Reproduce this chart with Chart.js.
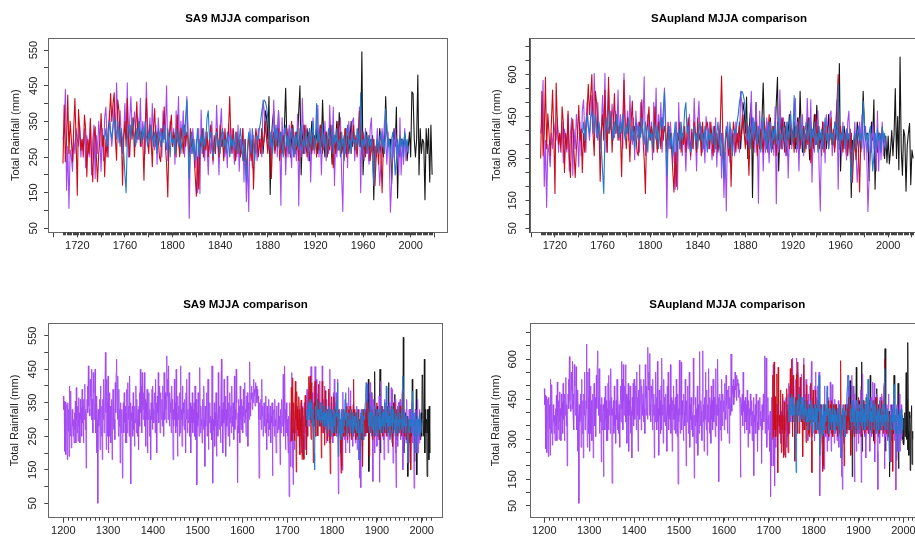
<!DOCTYPE html>
<html lang="en">
<head>
<meta charset="UTF-8" />
<title>SA9 / SAupland MJJA comparison</title>
<script src="https://cdn.jsdelivr.net/npm/chart.js"></script>
<style>
  html, body { margin: 0; padding: 0; background: #fff; overflow: hidden; }
  body { width: 915px; height: 538px; position: relative; }
  canvas { position: absolute; }
</style>
</head>
<body>
<canvas id="c1" width="460" height="269" style="left:0;top:0"></canvas>
<canvas id="c2" width="480" height="269" style="left:460px;top:0"></canvas>
<canvas id="c3" width="460" height="269" style="left:0;top:269px"></canvas>
<canvas id="c4" width="480" height="269" style="left:460px;top:269px"></canvas>

<script>
// ---- data (MJJA total rainfall, mm), one value per year from the start year ----

// SA9 long reconstruction (purple), 1200-1998
const sa9PurpleStart = 1200;
const sa9Purple = [
  370,330,355,205,352,318,195,300,345,180, 350,265,330,190,400,300,250,385,215,280,
  330,280,250,300,230,320,270,355,230,395, 300,260,340,235,365,280,320,230,360,300,
  335,250,390,290,340,230,360,300,405,270, 330,155,300,360,400,320,460,340,330,310,
  420,370,320,450,300,360,260,440,380,300, 330,450,260,370,200,350,300,50,330,280,
  300,360,210,400,300,250,340,180,360,300, 420,260,300,340,500,320,210,420,350,250,
  430,200,320,380,250,340,230,290,360,180, 320,390,270,350,300,240,410,320,440,480,
  350,300,430,250,390,280,330,170,350,260, 300,330,125,310,350,260,380,290,340,230,
  320,230,390,260,410,300,340,250,430,300, 350,108,320,300,340,250,380,270,300,220,
  340,290,400,260,360,300,250,330,210,340, 380,280,450,320,400,260,440,340,300,380,
  330,440,280,360,220,350,300,390,200,340, 300,380,250,330,310,180,350,300,390,270,
  400,330,290,350,380,260,420,300,350,200, 370,320,440,290,350,400,260,380,330,300,
  360,280,400,320,250,440,350,300,380,330, 290,490,370,420,300,460,330,280,380,350,
  320,260,400,300,360,180,330,280,420,300, 350,260,450,280,320,190,370,300,340,250,
  380,260,460,300,330,220,400,280,350,320, 270,360,300,200,380,300,420,260,330,290,
  300,440,250,350,310,200,340,290,380,260, 330,290,350,250,400,300,240,360,105,320,
  280,380,300,250,330,455,260,340,300,280, 230,360,310,270,400,300,160,340,280,330,
  380,250,300,420,210,330,290,350,260,310, 300,240,460,330,110,300,270,350,220,320,
  280,380,190,330,300,250,440,300,270,340, 310,230,360,480,280,330,200,350,290,420,
  300,260,370,190,330,280,430,300,250,350, 330,220,380,290,340,260,400,310,280,350,
  300,240,430,270,330,300,450,350,280,112, 320,360,260,340,230,400,300,270,360,310,
  340,260,390,310,290,410,330,300,250,370, 320,380,220,350,330,300,472,350,310,380,
  360,400,330,380,350,420,370,390,340,410, 380,400,350,390,360,370,300,125,350,330,
  300,360,270,420,310,340,250,300,350,280, 330,260,370,300,210,340,290,320,250,360,
  300,270,340,230,310,290,350,132,300,280, 330,250,360,300,280,200,340,310,260,300,
  350,270,310,290,165,330,260,300,360,280, 320,435,250,300,460,330,210,290,350,260,
  300,250,200,310,70,280,350,160,
  300,330,440,157,280,106,270,250,210,300, 260,330,300,280,340,250,300,270,330,220,
  310,280,250,350,200,300,340,190,310,260, 350,300,210,330,240,360,390,300,250,380,
  320,280,330,400,300,458,350,290,380,300, 260,320,400,300,458,250,350,420,330,310,
  377,330,290,360,300,415,280,350,320,260, 460,340,300,360,280,400,310,270,340,230,
  360,300,330,250,380,300,330,450,240,300, 350,300,280,330,230,380,300,420,260,350,
  300,380,250,310,420,330,78,300,260,330, 280,220,300,150,330,148,382,260,300,240,
  320,280,200,300,260,350,230,300,260,395, 300,200,330,386,280,320,250,300,220,344,
  300,260,330,280,230,300,250,340,210,300, 260,330,180,300,125,250,97,330,280,220,
  310,260,300,240,330,280,300,250,410,380, 330,300,290,270,320,260,300,410,280,340,
  250,380,300,115,360,270,330,200,300,250, 340,280,220,330,260,300,240,370,113,300,
  250,415,300,260,340,280,240,330,180,300, 360,260,300,340,395,250,330,200,310,270,
  350,240,300,260,395,300,260,390,170,300, 250,330,280,360,200,97,300,260,330,220,
  350,300,280,350,360,240,300,260,330,390, 150,320,280,240,330,260,300,230,330,360,
  250,300,210,270,330,250,170,230,330,280, 350,300,230,320,250,95,180,300,250,330,
  260,300,200,360,200,300,230,330,240,290, 270
];

// SA9 reconstruction (red), 1708-1977
const sa9RedStart = 1708;
const sa9Red = [
  232,396,237,300,424,260,350,300,237,330, 414,300,143,383,330,269,300,250,368,330,
  195,300,260,358,240,181,300,335,250,181, 260,300,372,280,310,195,300,250,330,360,
  428,350,400,430,300,241,410,380,300,320, 171,300,350,280,414,300,250,340,300,360,
  251,330,405,300,350,280,320,300,185,330, 414,300,260,340,300,223,330,386,280,320,
  300,250,237,330,300,391,280,230,138,300, 330,368,280,320,300,250,368,300,251,330,
  300,260,340,280,320,300,250,330,280,300, 260,200,140,250,160,300,280,330,250,300,
  270,320,250,300,340,280,240,310,260,330, 300,250,340,280,300,240,330,280,300,320,
  420,300,260,330,280,240,320,260,300,250, 280,330,240,300,200,260,310,280,240,300,
  160,280,330,300,250,300,260,320,280,300, 350,300,260,330,280,190,300,320,260,300,
  280,330,240,300,260,310,280,250,330,300, 260,300,350,280,250,320,270,300,240,330,
  280,300,260,340,290,250,320,280,300,260, 330,280,300,250,320,270,300,340,260,300,
  280,320,250,300,270,340,280,220,310,260, 300,350,270,320,260,300,280,330,250,300,
  280,320,260,300,340,270,310,250,300,380, 300,260,320,280,250,300,270,310,240,280,
  260,300,170,250,290,230,300,260,150,280
];

// SA9 reconstruction (blue), 1743-1998
const sa9BlueStart = 1743;
const sa9Blue = [
  300,330,280,310,350,320,300,340,360,330, 300,350,320,280,330,300,260,200,150,300,
  340,320,300,360,330,310,280,330,300,350, 320,290,330,300,350,310,280,320,300,340,
  310,280,320,300,260,330,300,280,320,290, 340,300,270,330,300,250,320,290,300,260,
  330,300,280,320,260,300,340,310,360,410, 300,190,280,320,260,300,240,280,330,250,
  290,310,260,330,280,300,360,380,300,320, 280,250,270,300,320,280,300,260,310,330,
  280,300,260,320,290,250,310,280,300,270, 320,290,260,300,330,280,240,300,260,180,
  280,320,300,260,330,290,240,280,310,300, 330,350,380,400,410,405,390,360,300,280,
  320,260,300,340,280,330,300,270,320,290, 250,300,340,280,310,260,300,330,280,250,
  310,280,330,270,300,340,260,300,280,320, 300,260,330,280,310,350,270,300,400,290,
  320,260,300,340,280,310,250,300,330,280, 300,340,260,310,290,330,270,300,250,320,
  280,310,260,300,340,280,300,260,320,290, 300,270,330,310,280,430,260,300,280,320,
  290,260,310,280,300,250,170,230,280,300, 260,300,320,280,300,260,385,330,280,300,
  250,300,320,270,200,240,300,260,310,280, 300,250,320,280,300,260
];

// SA9 observations (black), 1873-2018
const sa9BlackStart = 1873;
const sa9Black = [
  300,280,330,260,310,380,360,300,420,145, 300,350,380,270,330,290,380,250,320,300,
  260,340,443,300,280,330,250,300,340,290, 260,320,300,380,450,200,300,340,260,310,
  330,280,240,300,350,270,310,290,330,260, 300,340,280,410,300,250,320,290,260,340,
  300,230,330,280,300,350,270,375,320,260, 300,240,330,280,310,260,300,350,280,320,
  270,300,260,330,300,280,545,200,300,260, 320,280,240,300,270,310,130,280,250,300,
  260,330,300,280,250,300,420,320,280,300, 300,175,260,330,280,390,135,280,250,300,
  300,280,315,290,240,280,320,250,433,428, 300,250,300,480,200,330,260,300,290,130,
  330,260,330,180,340,200
];

// SAupland long reconstruction (purple), 1200-1998
const upPurpleStart = 1200;
const upPurple = [
  490,430,465,265,460,415,250,390,450,235, 457,340,430,240,525,390,322,505,278,365,
  430,365,322,390,295,415,350,465,295,515, 390,335,445,300,478,365,415,295,470,390,
  438,322,510,375,445,295,470,390,532,350, 430,200,390,470,525,415,610,445,430,405,
  552,485,415,592,390,470,335,580,500,390, 430,572,335,485,255,457,390,60,430,365,
  390,470,270,525,390,322,445,230,470,390, 552,335,390,445,657,415,270,552,457,322,
  565,255,415,500,322,445,295,375,470,230, 415,510,350,457,390,310,540,415,580,632,
  457,390,565,322,510,365,430,215,457,335, 390,430,160,405,457,335,500,375,445,295,
  415,295,510,335,540,390,445,322,565,390, 457,135,415,390,445,322,500,350,390,285,
  445,375,525,335,470,390,322,430,270,445, 500,365,592,415,525,335,580,445,390,500,
  430,580,365,470,285,457,390,510,255,445, 390,500,322,430,405,230,457,390,510,350,
  525,430,375,457,500,335,552,390,457,255, 485,415,580,375,457,525,335,500,430,390,
  470,365,525,415,322,580,457,390,500,430, 375,645,485,552,390,622,430,365,500,457,
  415,335,525,390,470,230,430,365,552,390, 457,335,592,365,415,240,485,390,445,322,
  500,335,604,390,430,285,525,365,457,415, 350,470,390,255,500,390,552,335,430,375,
  390,580,322,457,405,255,445,375,500,335, 430,375,457,322,525,390,310,470,132,415,
  365,597,390,322,430,590,335,445,390,365, 295,470,405,350,525,390,200,445,365,430,
  500,322,390,552,270,430,375,457,335,405, 390,310,604,430,154,390,350,457,285,415,
  365,500,240,430,390,322,629,390,350,445, 405,295,470,632,365,430,255,457,375,552,
  390,335,485,240,430,365,565,390,322,457, 430,285,500,375,445,335,525,405,365,457,
  390,310,565,350,430,390,600,457,365,141, 415,470,335,445,295,525,390,350,470,405,
  445,335,510,405,375,540,430,390,322,485, 415,500,285,457,430,390,620,457,405,500,
  470,525,430,500,457,552,485,510,445,540, 500,525,457,510,470,485,390,157,457,430,
  390,470,350,552,405,445,322,390,457,365, 430,335,485,390,270,445,375,415,322,470,
  390,350,445,295,405,375,457,164,390,365, 430,322,470,390,365,255,445,405,335,390,
  457,350,405,375,210,430,335,390,470,365, 415,613,322,390,605,430,270,375,457,335,
  390,322,255,405,85,365,457,200,
  390,430,580,200,365,125,350,322,270,390, 335,430,390,365,445,322,390,350,430,285,
  405,365,322,457,255,390,445,240,405,335, 457,390,270,430,310,470,510,390,322,500,
  415,365,430,525,390,605,457,375,500,390, 335,415,525,390,605,322,457,552,430,405,
  495,430,375,470,390,545,365,457,415,335, 605,445,390,470,365,525,405,350,445,295,
  470,390,430,322,500,390,430,592,310,390, 457,390,365,430,295,500,390,552,335,457,
  390,500,322,405,552,430,88,390,335,430, 365,285,390,190,430,188,500,335,390,310,
  415,365,255,390,335,457,295,390,335,515, 390,255,430,505,365,415,322,390,285,450,
  390,335,430,365,295,390,322,445,270,390, 335,430,230,390,160,322,112,430,365,285,
  405,335,390,310,430,365,390,322,540,500, 430,390,375,350,415,335,390,540,365,445,
  322,500,390,140,470,350,430,255,390,322, 445,365,285,430,335,390,310,485,138,390,
  322,545,390,335,445,365,310,430,230,390, 470,335,390,445,515,322,430,255,405,350,
  457,310,390,335,515,390,335,510,215,390, 322,430,365,470,255,112,390,335,430,285,
  457,390,365,457,470,310,390,335,430,510, 190,415,365,310,430,335,390,295,430,470,
  322,390,270,350,430,322,215,295,430,365, 457,390,295,415,322,110,230,390,322,430,
  335,390,255,470,255,390,295,430,310,375, 350
];

// SAupland reconstruction (red), 1708-1977
const upRedStart = 1708;
const upRed = [
  300,540,310,390,590,335,460,390,310,430, 545,390,175,570,430,350,390,322,485,430,
  250,390,335,470,310,232,390,440,322,232, 335,390,490,365,405,250,390,322,430,470,
  565,457,525,600,390,310,540,500,390,415, 218,390,457,365,545,390,322,590,390,470,
  322,430,532,390,457,365,415,390,235,430, 580,390,335,445,390,288,430,505,365,415,
  390,322,310,430,390,510,365,295,175,390, 430,485,365,415,390,322,485,390,322,430,
  390,335,445,365,415,390,322,430,365,390, 335,255,180,322,200,390,365,430,322,390,
  350,415,322,390,445,365,310,405,335,430, 390,322,445,365,390,310,430,365,390,415,
  430,390,335,430,365,310,415,335,390,322, 365,430,595,390,255,335,405,365,310,390,
  200,365,430,390,322,390,335,415,365,390, 457,390,335,430,365,240,390,415,335,390,
  365,430,310,390,335,405,365,322,430,390, 335,390,457,365,322,415,350,390,310,430,
  365,390,335,445,375,322,415,365,390,335, 430,365,390,322,415,350,390,445,335,390,
  365,415,322,390,350,445,365,285,405,335, 390,457,350,415,335,390,365,430,322,390,
  365,415,335,390,445,350,405,322,390,500, 600,335,415,365,322,390,350,405,310,365,
  335,390,215,322,375,295,390,335,180,365
];

// SAupland reconstruction (blue), 1743-1998
const upBlueStart = 1743;
const upBlue = [
  390,430,365,405,457,415,390,445,470,430, 390,457,415,365,430,390,335,255,175,390,
  445,415,390,470,430,405,365,430,390,457, 415,375,430,390,457,405,365,415,390,445,
  405,365,415,390,335,430,390,365,415,375, 445,390,350,430,390,322,415,375,390,335,
  430,390,365,415,335,390,445,405,470,540, 390,240,365,415,335,390,310,365,430,322,
  375,405,335,430,365,390,470,500,390,415, 365,322,350,390,415,365,390,335,405,430,
  365,390,335,415,375,322,405,365,390,350, 415,375,335,390,430,365,310,390,335,230,
  365,415,390,335,430,375,310,365,405,390, 430,457,500,525,540,532,510,470,390,365,
  415,335,390,445,365,430,390,350,415,375, 322,390,445,365,405,335,390,430,365,322,
  405,365,430,350,390,445,335,390,365,415, 390,335,430,365,405,457,350,390,525,375,
  415,335,390,445,365,405,322,390,430,365, 390,445,335,405,375,430,350,390,322,415,
  365,405,335,390,445,365,390,335,415,375, 390,350,430,405,365,565,335,390,365,415,
  375,335,405,365,390,322,215,295,365,390, 335,390,415,365,390,335,505,430,365,390,
  322,390,415,350,255,310,390,335,405,365, 390,322,415,365,390,335
];

// SAupland observations (black), 1873-2021
const upBlackStart = 1873;
const upBlack = [
  390,365,430,335,405,500,470,390,520,300, 390,457,500,160,430,375,500,322,415,390,
  335,445,570,390,365,430,322,390,445,375, 335,415,390,500,590,255,390,445,335,405,
  430,365,310,390,457,350,405,375,430,335, 390,445,365,540,390,322,415,375,335,445,
  390,295,430,365,390,457,350,490,415,335, 390,310,430,365,405,335,390,457,365,415,
  350,390,335,430,390,365,640,255,390,335, 415,365,310,390,350,405,160,365,322,390,
  335,430,390,365,322,390,540,415,365,390, 390,220,335,430,365,510,190,365,322,390,
  390,365,410,375,300,380,285,380,280,330, 400,310,390,550,300,450,260,663,330,240,
  403,380,183,345,390,426,206,330,300
];

// top panels show only the years from 1708 on
const topFrom = 1708;

// axis ticks
const topXTicks = [1700,1720,1740,1760,1780,1800,1820,1840,1860,1880,1900,1920,1940,1960,1980,2000,2020];
const topXLabels = [1720,1760,1800,1840,1880,1920,1960,2000];
const bottomXTicks = [1200,1300,1400,1500,1600,1700,1800,1900,2000];
const sa9YTicks = [50,100,150,200,250,300,350,400,450,500,550];
const sa9YLabels = [50,150,250,350,450,550];
const upYTicks = [50,100,150,200,250,300,350,400,450,500,550,600,650,700];
const upYLabels = [50,150,300,450,600];

// ---- drawing ----
Chart.defaults.font.family = "'Liberation Sans', Arial, sans-serif";
Chart.defaults.color = '#222';

const COL = { purple: '#a448f2', red: '#cc0c18', blue: '#2478cc', black: '#151515' };

function pts(start, vals, from) {
  return vals.map((v, i) => ({ x: start + i, y: v })).filter(p => p.x >= from);
}

function line(start, vals, color, order, width, from) {
  return {
    data: pts(start, vals, from), borderColor: color, borderWidth: width,
    pointRadius: 0, tension: 0, fill: false, order, borderJoinStyle: 'round'
  };
}

// box, rug ticks, title and rotated y labels like the R plot
function decor(p) {
  return {
    id: 'decor',
    afterDraw(chart) {
      const { ctx, chartArea: a, scales } = chart;
      ctx.save();
      ctx.strokeStyle = '#666';
      ctx.lineWidth = 1;
      ctx.strokeRect(Math.round(a.left) + 0.5, Math.round(a.top) + 0.5,
                     Math.round(a.right - a.left), Math.round(a.bottom - a.top));

      ctx.strokeStyle = '#444';
      ctx.beginPath();
      for (let yr = p.minor[0]; yr <= p.minor[1]; yr += p.minor[2]) {
        const px = Math.round(scales.x.getPixelForValue(yr)) + 0.5;
        ctx.moveTo(px, a.bottom);
        ctx.lineTo(px, a.bottom + 3);
      }
      ctx.stroke();

      ctx.textAlign = 'center';
      ctx.textBaseline = 'middle';
      ctx.fillStyle = '#000';
      ctx.font = "bold 11.5px 'Liberation Sans', Arial, sans-serif";
      ctx.fillText(p.title, (a.left + a.right) / 2, p.titleY);

      ctx.fillStyle = '#222';
      ctx.font = "11px 'Liberation Sans', Arial, sans-serif";
      p.yLabels.forEach(v => {
        ctx.save();
        ctx.translate(p.yLabelX, scales.y.getPixelForValue(v));
        ctx.rotate(-Math.PI / 2);
        ctx.fillText(String(v), 0, 0);
        ctx.restore();
      });
      ctx.save();
      ctx.translate(p.yTitleX, (a.top + a.bottom) / 2);
      ctx.rotate(-Math.PI / 2);
      ctx.fillText('Total Rainfall (mm)', 0, 0);
      ctx.restore();
      ctx.restore();
    }
  };
}

function panel(id, p) {
  new Chart(document.getElementById(id), {
    type: 'line',
    data: { datasets: p.datasets },
    options: {
      responsive: false,
      animation: false,
      events: [],
      parsing: false,
      layout: { padding: { top: p.top, right: p.right, left: 0, bottom: 0 } },
      plugins: { legend: { display: false }, tooltip: { enabled: false } },
      scales: {
        x: {
          type: 'linear', min: p.xMin, max: p.xMax,
          afterFit: s => { s.height = p.xH; },
          afterBuildTicks: s => { s.ticks = p.xTicks.map(v => ({ value: v })); },
          ticks: {
            autoSkip: false, maxRotation: 0, padding: 2, font: { size: 11 }, color: '#222',
            callback: v => p.xLabels.includes(v) ? String(v) : ''
          },
          grid: { drawOnChartArea: false, tickLength: 5, color: '#444' },
          border: { color: '#444' }
        },
        y: {
          type: 'linear', min: p.yMin, max: p.yMax,
          afterFit: s => { s.width = p.yW; },
          afterBuildTicks: s => { s.ticks = p.yTicks.map(v => ({ value: v })); },
          ticks: { display: false },
          grid: { drawOnChartArea: false, tickLength: 4, color: '#444' },
          border: { color: '#444' }
        }
      }
    },
    plugins: [decor(p)]
  });
}

// draw order: blue on top, then red, purple, black underneath
function sa9Sets(w, from) {
  return [
    line(sa9BlackStart, sa9Black, COL.black, 3, w, from),
    line(sa9PurpleStart, sa9Purple, COL.purple, 2, w, from),
    line(sa9RedStart, sa9Red, COL.red, 1, w, from),
    line(sa9BlueStart, sa9Blue, COL.blue, 0, w, from)
  ];
}
function upSets(w, from) {
  return [
    line(upBlackStart, upBlack, COL.black, 3, w, from),
    line(upPurpleStart, upPurple, COL.purple, 2, w, from),
    line(upRedStart, upRed, COL.red, 1, w, from),
    line(upBlueStart, upBlue, COL.blue, 0, w, from)
  ];
}

panel('c1', {
  title: 'SA9 MJJA comparison', titleY: 19, datasets: sa9Sets(1.1, topFrom),
  top: 38, right: 13, xH: 36.7, yW: 48,
  xMin: 1695.4, xMax: 2030.5, yMin: 38.8, yMax: 584,
  xTicks: topXTicks, xLabels: topXLabels, minor: [1708, 2018, 1],
  yTicks: sa9YTicks, yLabels: sa9YLabels, yLabelX: 33.5, yTitleX: 15.5
});
panel('c2', {
  title: 'SAupland MJJA comparison', titleY: 19, datasets: upSets(1.1, topFrom),
  top: 38, right: 11.5, xH: 36.7, yW: 69.5,
  xMin: 1698.6, xMax: 2033.9, yMin: 35.7, yMax: 731,
  xTicks: topXTicks, xLabels: topXLabels, minor: [1708, 2021, 1],
  yTicks: upYTicks, yLabels: upYLabels, yLabelX: 53.3, yTitleX: 36.7
});
panel('c3', {
  title: 'SA9 MJJA comparison', titleY: 36, datasets: sa9Sets(0.9, 1200),
  top: 54.3, right: 17.3, xH: 20.3, yW: 48.3,
  xMin: 1166.5, xMax: 2046.9, yMin: 7, yMax: 587,
  xTicks: bottomXTicks, xLabels: bottomXTicks, minor: [1200, 2020, 10],
  yTicks: sa9YTicks, yLabels: sa9YLabels, yLabelX: 33.3, yTitleX: 15
});
panel('c4', {
  title: 'SAupland MJJA comparison', titleY: 36, datasets: upSets(0.9, 1200),
  top: 54.3, right: 15.6, xH: 20.3, yW: 70,
  xMin: 1168.2, xMax: 2046.6, yMin: 6, yMax: 735,
  xTicks: bottomXTicks, xLabels: bottomXTicks, minor: [1200, 2020, 10],
  yTicks: upYTicks, yLabels: upYLabels, yLabelX: 53.3, yTitleX: 36
});
</script>
</body>
</html>
